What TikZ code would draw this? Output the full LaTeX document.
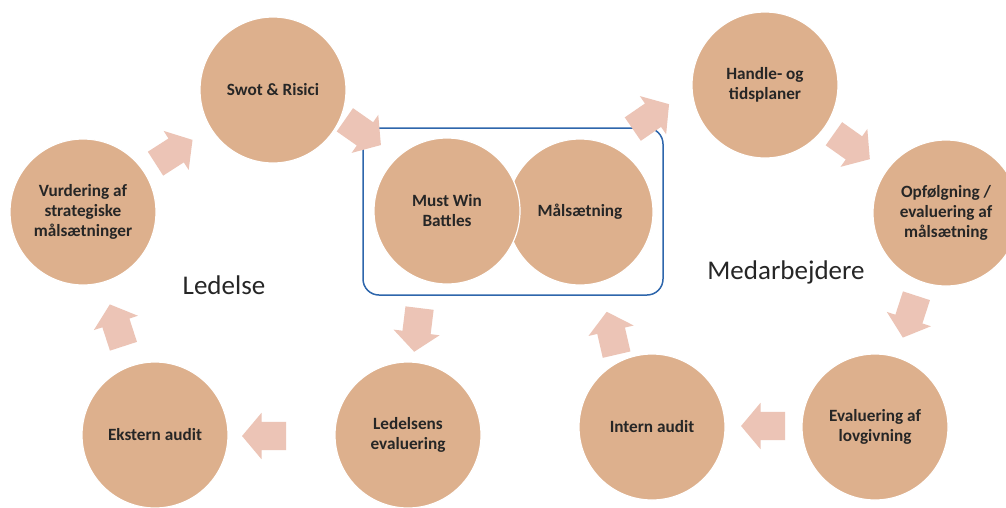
\documentclass[tikz,border=0pt]{standalone}
\usepackage{fontspec}
\setmainfont{Carlito}
\usetikzlibrary{shapes.arrows}
\definecolor{circ}{RGB}{221,176,141}
\definecolor{arr}{RGB}{236,196,182}
\definecolor{boxblue}{RGB}{46,102,172}
\definecolor{txt}{RGB}{38,38,38}
\begin{document}
\begin{tikzpicture}[x=1pt,y=-1pt,
  stage/.style={circle,fill=circ,draw=white,line width=1.2pt,minimum size=146pt,inner sep=0pt,align=center,text=txt,font=\fontsize{17.2}{20}\selectfont\bfseries},
  blockarrow/.style={single arrow,fill=arr,draw=none,minimum height=44pt,single arrow head extend=9pt,single arrow tip angle=100,inner xsep=0pt,inner ysep=14pt},
  grouplabel/.style={font=\fontsize{27}{32}\selectfont,text=txt,inner sep=0pt},
  focusbox/.style={draw=boxblue,line width=1.5pt,rounded corners=16pt,minimum width=300pt,minimum height=167pt,inner sep=0pt}]
\useasboundingbox (0,0) rectangle (1006,507);
\fill[white] (0,0) rectangle (1006,507);
% group box
\node[focusbox] (focus) at (513,211.5) {};
% circles
\node[stage] (swot) at (273,90) {Swot \& Risici};
\node[stage] (vurd) at (83,212) {Vurdering af\\strategiske\\målsætninger};
\node[stage] (maal) at (580,212) {Målsætning};
\node[stage] (must) at (447,211) {Must Win\\Battles};
\node[stage] (handle) at (765,85) {Handle- og\\tidsplaner};
\node[stage] (opf) at (946,213) {Opfølgning /\\evaluering af\\målsætning};
\node[stage] (lov) at (875,427) {Evaluering af\\lovgivning};
\node[stage] (intern) at (652,427) {Intern audit};
\node[stage] (ledev) at (408,435) {Ledelsens\\evaluering};
\node[stage] (ekstern) at (155,435) {Ekstern audit};
% group labels
\node[grouplabel] (ledelse) at (224,285) {Ledelse};
\node[grouplabel] (medarb) at (786,272) {Medarbejdere};
% block arrows
\node[blockarrow,rotate=32.7] (a1) at (169,155) {};
\node[blockarrow,rotate=-35] (a2) at (358,129) {};
\node[blockarrow,rotate=34.5] (a3) at (646,120) {};
\node[blockarrow,rotate=-35.3] (a4) at (847,143) {};
\node[blockarrow,rotate=-108] (a5) at (911.5,311) {};
\node[blockarrow,rotate=180] (a6) at (769,426) {};
\node[blockarrow,rotate=103] (a7) at (613,339) {};
\node[blockarrow,rotate=-97] (a8) at (417.6,324) {};
\node[blockarrow,rotate=180] (a9) at (270,436) {};
\node[blockarrow,rotate=108] (a10) at (118.5,331) {};
\end{tikzpicture}
\end{document}
